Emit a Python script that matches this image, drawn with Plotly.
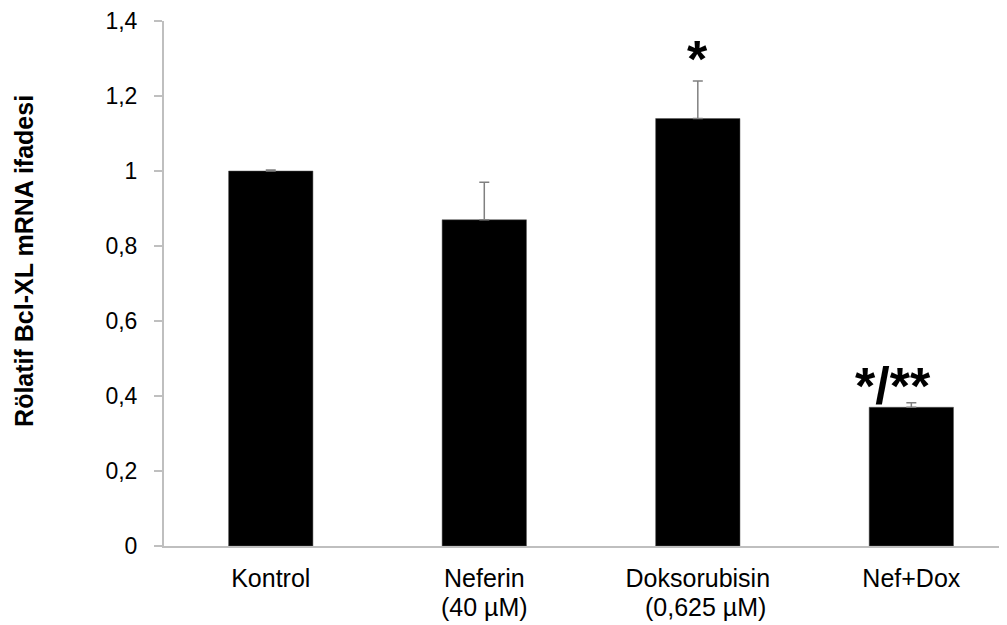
import plotly.graph_objects as go

categories = ["Kontrol", "Neferin", "Doksorubisin", "Nef+Dox"]
sub_labels = ["", "(40 µM)", "(0,625 µM)", ""]
means = [1.0, 0.87, 1.14, 0.37]
errors = [0.003, 0.10, 0.10, 0.012]
signif = ["", "", "*", "*/**"]
y_title = "Rölatif Bcl-XL mRNA ifadesi"

FONT = "Liberation Sans, Arial, sans-serif"
xpos = list(range(len(categories)))

fig = go.Figure()
fig.add_trace(go.Bar(
    x=xpos, y=means, width=0.395,
    marker=dict(color="#000000", line=dict(color="#555555", width=0.5)),
    error_y=dict(type="data", array=errors, arrayminus=[0] * len(errors),
                 symmetric=False, color="#808080", thickness=1.5, width=5),
))

annotations = []
for i, s in enumerate(sub_labels):
    if s:
        annotations.append(dict(x=i, y=-0.117, xref="x", yref="paper", text=s,
                                showarrow=False, xanchor="center", yanchor="middle",
                                xshift=8 if i == 2 else 0,
                                font=dict(family=FONT, size=25, color="#000")))
for i, s in enumerate(signif):
    if s:
        annotations.append(dict(x=i, y=means[i] + errors[i], xref="x", yref="y", text="<b>%s</b>" % s,
                                showarrow=False, xanchor="center", yanchor="bottom",
                                xshift=-18 if i == 3 else 0,
                                yshift=-14 if i == 3 else -9,
                                font=dict(family=FONT, size=52, color="#000")))
annotations.append(dict(x=-0.1661, y=0.543, xref="paper", yref="paper", text="<b>%s</b>" % y_title,
                        showarrow=False, textangle=-90, xanchor="center", yanchor="middle",
                        font=dict(family=FONT, size=25, color="#000")))

fig.update_layout(
    width=999, height=617,
    margin=dict(l=156, r=0, t=11, b=79),
    plot_bgcolor="white", paper_bgcolor="white",
    separators=", ",
    showlegend=False,
    annotations=annotations,
    font=dict(family=FONT, size=22, color="#000"),
)
fig.update_xaxes(
    range=[-0.5, 3.448], tickvals=xpos, ticktext=categories,
    showline=True, linecolor="#bfbfbf", linewidth=2, ticks="",
    showgrid=False, zeroline=False, ticklabelstandoff=9,
    tickfont=dict(family=FONT, size=25, color="#000"),
)
fig.update_yaxes(
    range=[0, 1.4], dtick=0.2, tick0=0,
    showline=True, linecolor="#bfbfbf", linewidth=2,
    ticks="outside", ticklen=8, tickcolor="#bfbfbf", tickwidth=1.5,
    showgrid=False, zeroline=False, ticklabelstandoff=12,
    ticklabeloverflow="allow",
    tickfont=dict(family=FONT, size=23, color="#000"),
)

fig.write_html("out.html")
